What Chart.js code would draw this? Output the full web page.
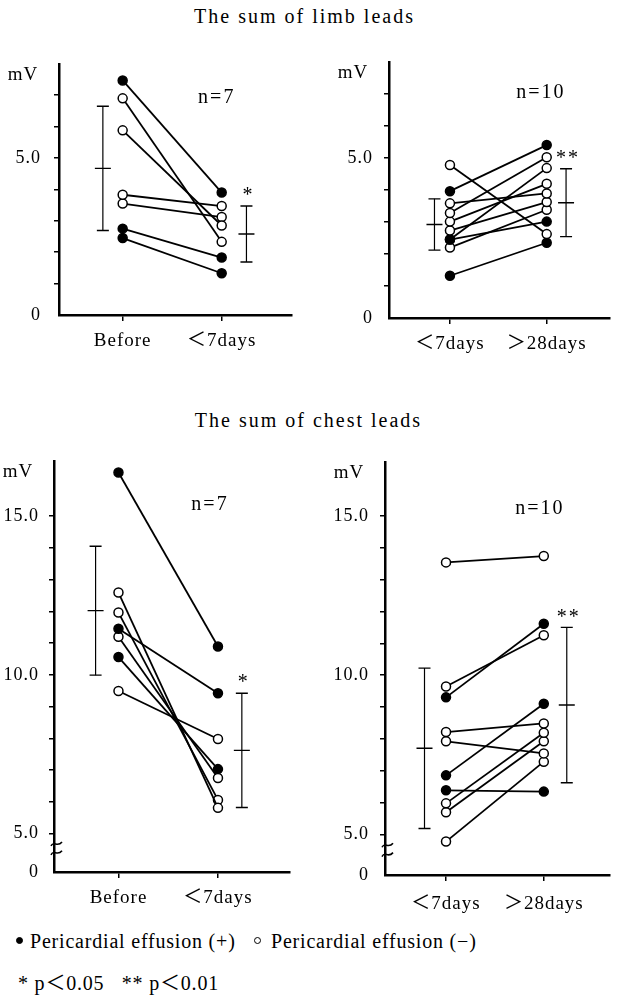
<!DOCTYPE html>
<html>
<head>
<meta charset="utf-8">
<script src="https://cdn.jsdelivr.net/npm/chart.js@4.4.1/dist/chart.umd.min.js"></script>
<style>
body{margin:0;background:#fff;width:617px;height:1007px;position:relative;overflow:hidden;font-family:"Liberation Serif","Noto Sans CJK JP",serif;color:#000}
canvas{position:absolute}
.t{position:absolute;left:0;width:617px;text-align:center;font-size:20px;letter-spacing:2px;line-height:20px;white-space:nowrap}
.note{position:absolute;font-size:20px;letter-spacing:0.8px;line-height:20px;white-space:nowrap}
.dot{position:absolute;width:7px;height:7px;border-radius:50%;box-sizing:border-box;border:1.3px solid #000}
</style>
</head>
<body>
<div class="t" style="top:6px;left:-4px">The sum of limb leads</div>
<div class="t" style="top:410px">The sum of chest leads</div>

<canvas id="limbA" width="300" height="320" style="left:0;top:40px"></canvas>
<canvas id="limbB" width="287" height="323" style="left:330px;top:40px"></canvas>
<canvas id="chestA" width="300" height="477" style="left:0;top:440px"></canvas>
<canvas id="chestB" width="292" height="480" style="left:325px;top:440px"></canvas>

<span class="dot" style="left:16px;top:937px;background:#000"></span>
<div class="note" style="left:30px;top:931px">Pericardial effusion (+)</div>
<span class="dot" style="left:254px;top:937px;background:#fff"></span>
<div class="note" style="left:271px;top:931px">Pericardial effusion (−)</div>
<div class="note" style="left:18px;top:973px">* p＜0.05&nbsp;&nbsp; ** p＜0.01</div>

<script>
const FONT = '"Liberation Serif", "Noto Sans CJK JP", serif';

// limb leads, before vs <7 days (n=7)
const limbCatsA = ['Before', '＜7days'];
const limbBefore = [7.47, 6.90, 5.88, 3.83, 3.55, 2.75, 2.45];
const limbEarlyA = [3.90, 2.33, 2.85, 3.47, 3.12, 1.83, 1.33];
const limbEffusionA = [1, 0, 0, 0, 0, 1, 1];
const limbMeanA = [4.67, 2.58];
const limbSdA = [1.98, 0.89];
const limbStarsA = ['', '*'];

// limb leads, <7 days vs >28 days (n=10)
const limbCatsB = ['＜7days', '＞28days'];
const limbEarlyB = [4.78, 3.96, 3.58, 3.28, 3.01, 2.73, 2.45, 2.45, 2.20, 1.32];
const limbLateB = [2.62, 5.40, 3.89, 5.02, 4.19, 3.62, 3.01, 4.68, 3.38, 2.35];
const limbEffusionB = [0, 1, 0, 0, 0, 0, 1, 0, 0, 1];
const limbMeanB = [2.92, 3.60];
const limbSdB = [0.80, 1.06];
const limbStarsB = ['', '**'];

// chest leads, before vs <7 days (n=7)
const chestBefore = [16.37, 12.59, 11.96, 11.45, 11.20, 10.56, 9.49];
const chestEarlyA = [10.89, 5.81, 6.06, 9.42, 6.75, 7.03, 7.98];
const chestEffusionA = [1, 0, 0, 1, 0, 1, 0];
const chestMeanA = [12.02, 7.62];
const chestSdA = [2.03, 1.80];

// chest leads, <7 days vs >28 days (n=10)
const chestEarlyB = [13.54, 9.64, 9.30, 8.21, 7.92, 6.85, 6.38, 5.97, 5.69, 4.77];
const chestLateB = [13.74, 11.25, 11.61, 8.48, 7.54, 9.10, 6.34, 8.19, 7.92, 7.28];
const chestEffusionB = [0, 0, 1, 0, 0, 1, 1, 0, 0, 0];
const chestMeanB = [7.70, 9.06];
const chestSdB = [2.52, 2.44];

const limbTicks = [0, 1, 2, 3, 4, 5, 6, 7];
const limbTickLabels = ['0', '', '', '', '', '5.0', '', ''];
const chestTicks = [5, 6, 7, 8, 9, 10, 11, 12, 13, 14, 15];
const chestTickLabels = ['5.0', '', '', '', '', '10.0', '', '', '', '', '15.0'];

// canvas text is a bit wider in the original print
const spacing = {
    id: 'spacing',
    beforeUpdate(c) { c.ctx.letterSpacing = '1px'; },
    beforeDraw(c) { c.ctx.letterSpacing = '1px'; }
};

const notes = {
    id: 'notes',
    afterDraw(chart, args, o) {
        const {ctx, chartArea: a, scales: {x, y}} = chart;
        ctx.save();
        ctx.fillStyle = '#000';
        ctx.strokeStyle = '#000';
        ctx.textAlign = 'center';
        ctx.textBaseline = 'middle';
        ctx.font = '19px ' + FONT;
        ctx.letterSpacing = '1px';
        ctx.fillText('mV', a.left - 36, a.top + 11);
        ctx.font = '20px ' + FONT;
        ctx.letterSpacing = '2px';
        ctx.fillText(o.n, x.getPixelForValue(o.nAt[0]), y.getPixelForValue(o.nAt[1]));
        o.stars.forEach((s, i) => {
            if (!s) return;
            const top = y.getPixelForValue(o.mean[i] + o.sd[i]);
            ctx.fillText(s, x.getPixelForValue(o.sdX[i]) + 2, top - 10);
        });
        if (o.brk) {
            const y5 = y.getPixelForValue(5);
            const g = a.bottom - y5;
            ctx.lineWidth = 1.6;
            [y5 + g * 0.27, y5 + g * 0.5].forEach(yy => {
                ctx.beginPath();
                ctx.moveTo(a.left - 3, yy + 2);
                ctx.bezierCurveTo(a.left, yy - 4, a.left + 3, yy + 4, a.left + 8, yy - 2);
                ctx.stroke();
            });
        }
        ctx.restore();
    }
};

function panel(id, o) {
    const sets = [];
    o.first.forEach((v, i) => {
        sets.push({
            data: [{x: 1, y: v}, {x: 2, y: o.second[i]}],
            showLine: true,
            borderColor: '#000',
            borderWidth: 1.8,
            pointRadius: 4.5,
            pointHoverRadius: 4.5,
            pointBorderWidth: 1.5,
            pointBorderColor: '#000',
            pointBackgroundColor: o.filled[i] ? '#000' : '#fff'
        });
    });
    o.mean.forEach((m, j) => {
        const x = o.sdX[j];
        sets.push({
            data: [{x, y: m + o.sd[j]}, {x, y: m}, {x, y: m - o.sd[j]}],
            showLine: true,
            borderColor: '#000',
            borderWidth: 1.2,
            pointStyle: 'line',
            pointRadius: [6, 8, 6],
            pointHoverRadius: [6, 8, 6],
            pointBorderWidth: 1.4,
            pointBorderColor: '#000'
        });
    });
    const ticks = o.brk ? [o.yMin].concat(o.ticks) : o.ticks;
    const tickLabels = o.brk ? ['0'].concat(o.tickLabels) : o.tickLabels;

    return new Chart(document.getElementById(id), {
        type: 'scatter',
        data: {datasets: sets},
        plugins: [spacing, notes],
        options: {
            responsive: false,
            animation: false,
            events: [],
            layout: {padding: {top: o.padTop, right: o.padRight, left: 0, bottom: 0}},
            plugins: {
                legend: {display: false},
                tooltip: {enabled: false},
                notes: {n: o.n, nAt: o.nAt, stars: o.stars, mean: o.mean, sd: o.sd, sdX: o.sdX, brk: o.brk}
            },
            scales: {
                x: {
                    type: 'linear',
                    min: o.xMin,
                    max: o.xMax,
                    afterBuildTicks: s => { s.ticks = [{value: 1}, {value: 2}]; },
                    afterFit: s => { s.height = 45; },
                    ticks: {
                        callback: (v, i) => o.cats[i],
                        color: '#000',
                        font: {family: FONT, size: 19},
                        padding: o.xPad,
                        maxRotation: 0,
                        autoSkip: false
                    },
                    grid: {drawOnChartArea: false, tickLength: 6, color: '#000', lineWidth: 1.5},
                    border: {color: '#000', width: 2.5}
                },
                y: {
                    type: 'linear',
                    min: o.yMin,
                    max: o.yMax,
                    afterBuildTicks: s => { s.ticks = ticks.map(v => ({value: v})); },
                    afterFit: s => { s.width = o.yw; },
                    ticks: {
                        callback: (v, i) => tickLabels[i],
                        color: '#000',
                        font: {family: FONT, size: 18},
                        padding: o.yPad,
                        autoSkip: false
                    },
                    grid: {
                        drawOnChartArea: false,
                        tickLength: 5,
                        lineWidth: 1.5,
                        color: c => (c.tick && c.tick.value === o.yMin) ? 'rgba(0,0,0,0)' : '#000'
                    },
                    border: {color: '#000', width: 2.5}
                }
            }
        }
    });
}

panel('limbA', {
    cats: limbCatsA, first: limbBefore, second: limbEarlyA, filled: limbEffusionA,
    mean: limbMeanA, sd: limbSdA, stars: limbStarsA, n: 'n=7', nAt: [1.95, 6.92],
    ticks: limbTicks, tickLabels: limbTickLabels, yMin: 0, yMax: 8,
    xMin: 0.357, xMax: 2.71, sdX: [0.8, 2.25],
    yw: 59, padTop: 7, padRight: 8, xPad: 9, yPad: 13, brk: false
});

panel('limbB', {
    cats: limbCatsB, first: limbEarlyB, second: limbLateB, filled: limbEffusionB,
    mean: limbMeanB, sd: limbSdB, stars: limbStarsB, n: 'n=10', nAt: [1.94, 7.03],
    ticks: limbTicks, tickLabels: limbTickLabels, yMin: 0, yMax: 8,
    xMin: 0.37, xMax: 2.65, sdX: [0.84, 2.2],
    yw: 59, padTop: 13, padRight: 0, xPad: 9, yPad: 11, brk: false
});

panel('chestA', {
    cats: limbCatsA, first: chestBefore, second: chestEarlyA, filled: chestEffusionA,
    mean: chestMeanA, sd: chestSdA, stars: limbStarsA, n: 'n=7', nAt: [1.92, 15.37],
    ticks: chestTicks, tickLabels: chestTickLabels, yMin: 3.79, yMax: 16.74,
    xMin: 0.352, xMax: 2.724, sdX: [0.77, 2.24],
    yw: 54, padTop: 10, padRight: 10, xPad: 9, yPad: 10, brk: true
});

panel('chestB', {
    cats: limbCatsB, first: chestEarlyB, second: chestLateB, filled: chestEffusionB,
    mean: chestMeanB, sd: chestSdB, stars: limbStarsB, n: 'n=10', nAt: [1.96, 15.23],
    ticks: chestTicks, tickLabels: chestTickLabels, yMin: 3.72, yMax: 16.70,
    xMin: 0.376, xMax: 2.673, sdX: [0.78, 2.235],
    yw: 60, padTop: 13, padRight: 0, xPad: 12, yPad: 11, brk: true
});
</script>
</body>
</html>
